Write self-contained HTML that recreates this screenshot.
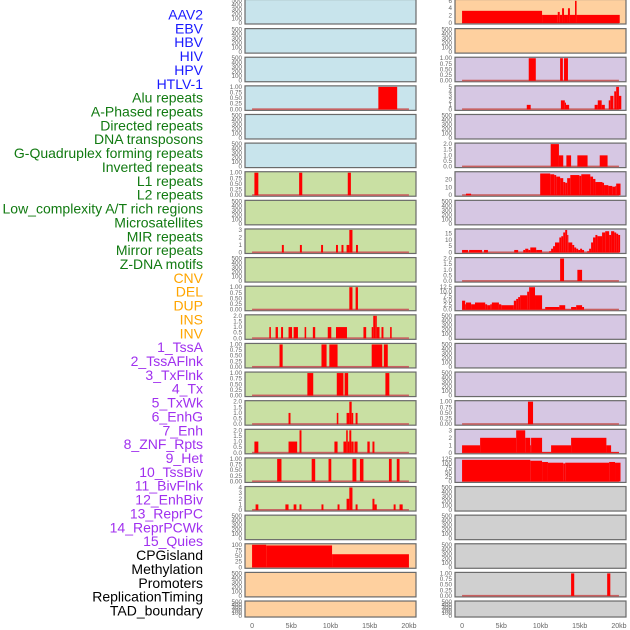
<!DOCTYPE html>
<html><head><meta charset="utf-8">
<style>
html,body{margin:0;padding:0;background:#fff;}
svg{display:block;font-family:"Liberation Sans",sans-serif;}
</style></head>
<body>
<svg id="chart" width="630" height="630" viewBox="0 0 630 630" xmlns="http://www.w3.org/2000/svg"></svg>
<script>
// ---------- data ----------
const trackLabels = ["AAV2","EBV","HBV","HIV","HPV","HTLV-1","Alu repeats","A-Phased repeats","Directed repeats","DNA transposons","G-Quadruplex forming repeats","Inverted repeats","L1 repeats","L2 repeats","Low_complexity A/T rich regions","Microsatellites","MIR repeats","Mirror repeats","Z-DNA motifs","CNV","DEL","DUP","INS","INV","1_TssA","2_TssAFlnk","3_TxFlnk","4_Tx","5_TxWk","6_EnhG","7_Enh","8_ZNF_Rpts","9_Het","10_TssBiv","11_BivFlnk","12_EnhBiv","13_ReprPC","14_ReprPCWk","15_Quies","CPGisland","Methylation","Promoters","ReplicationTiming","TAD_boundary"];
const labelGroups = ["v","v","v","v","v","v","r","r","r","r","r","r","r","r","r","r","r","r","r","s","s","s","s","s","c","c","c","c","c","c","c","c","c","c","c","c","c","c","c","o","o","o","o","o"];
const xTickValues = [0,5,10,15,20];
const xTickLabels = ["0","5kb","10kb","15kb","20kb"];

const leftBg = ["b","b","b","b","b","b","g","g","g","g","g","g","g","g","g","g","g","g","g","o","o","o"];
const rightBg = ["o","o","p","p","p","p","p","p","p","p","p","p","p","p","p","p","p","g2","g2","g2","g2","g2"];

const ticksEmpty = ["0","100","200","300","400","500"];
const ticksUnit = ["0.00","0.25","0.50","0.75","1.00"];
const ticksTwo = ["0.0","0.5","1.0","1.5","2.0"];
const ticksL8 = ["0","1","2","3"];
const ticksL17 = ["0","1","2","3","4"];
const ticksL19 = ["0","25","50","75","100"];
const ticksR0 = ["0","2","4","6"];
const ticksR3 = ["0","1","2","3","4","5"];
const ticksR6 = ["0","10","20"];
const ticksR8 = ["0","5","10","15"];
const ticksR10 = ["0.0","2.5","5.0","7.5","10.0","12.5"];
const ticksR15 = ["0","1","2","3"];
const ticksR16 = ["0","25","50","75","100","125"];

// segments: [startKb, endKb, value]
const segL3 = [[16.1,18.5,1]];
const segL6 = [[0.3,0.8,1],[6.0,6.4,1],[12.2,12.6,1]];
const segL8 = [[3.8,4.05,1],[6.1,6.35,1],[8.8,9.05,1],[10.7,10.95,1],[11.4,11.65,1],[12.05,12.4,1],[12.4,12.8,3],[13.25,13.5,1]];
const segL10 = [[12.4,12.8,1],[13.2,13.5,1]];
const segL11 = [[2.2,2.4,1],[3.0,3.3,1],[3.7,3.95,1],[4.65,5.1,1],[5.3,5.85,1],[6.7,6.9,1],[7.75,8.05,1],[9.65,10.1,1],[10.7,12.1,1],[14.2,14.55,1],[15.25,15.45,1],[15.45,15.7,2],[15.7,15.9,2],[15.9,16.25,1],[16.5,16.75,1],[17.6,17.8,1]];
const segL12 = [[3.5,3.9,1],[8.85,9.5,1],[9.85,10.9,1],[15.25,16.6,1],[16.8,17.3,1]];
const segL13 = [[7.05,7.8,1],[10.8,11.65,1],[11.8,12.25,1],[17.0,17.5,1]];
const segL14 = [[4.65,4.9,1],[10.8,11.0,1],[12.05,12.4,1],[12.4,12.7,2],[12.7,12.9,1],[13.2,13.45,1]];
const segL15 = [[0.3,0.8,1],[4.65,5.75,1],[6.05,6.3,2],[10.5,10.9,1],[11.65,12.0,1],[12.0,12.2,2],[12.2,12.4,1],[12.4,12.65,2],[12.65,12.95,1],[13.05,13.45,1],[14.7,15.0,1],[15.35,15.6,1]];
const segL16 = [[3.2,3.75,1],[7.6,8.05,1],[9.75,10.1,1],[12.8,13.3,1],[13.75,14.2,1],[17.45,17.8,1],[18.45,18.8,1]];
const segL17 = [[0.45,0.8,1],[4.25,4.65,1],[5.3,5.65,1],[6.05,6.3,1],[8.85,9.1,1],[10.9,11.15,1],[12.05,12.4,2],[12.4,12.8,4],[13.2,13.45,1],[15.35,15.6,2],[15.6,15.9,1],[18.05,18.3,1],[18.8,19.2,1]];
const segL19 = [[0,1.8,100],[1.8,10.2,97],[10.2,20.0,58]];

const segR0 = [[0,10.2,3.3],[10.2,12.2,2.2],[12.2,12.45,3],[12.45,12.75,2.2],[12.75,13.0,4],[13.0,13.5,2.2],[13.5,13.75,4],[13.75,14.4,2.2],[14.4,14.6,6],[14.6,20.1,2.2]];
const segR2 = [[8.5,9.4,1],[12.5,12.85,1],[13.0,13.5,1]];
const segR3 = [[8.25,8.75,1],[12.6,13.1,2],[13.1,13.25,1.5],[13.25,13.65,1],[16.9,17.3,1],[17.3,17.8,2],[17.8,18.2,1],[18.7,18.9,2],[18.9,19.3,3],[19.4,19.65,4],[19.65,20.0,5],[20.0,20.3,3]];
const segR5 = [[11.3,12.35,2],[12.35,12.9,1],[13.3,13.9,1],[14.7,16.0,1],[17.55,18.55,1]];
const segR6 = [[0.5,1.15,2],[9.96,11.24,28],[11.24,11.75,27],[11.75,12.0,26],[12.0,12.5,24],[12.5,12.9,22],[12.9,13.15,17],[13.15,13.4,16],[13.4,13.8,22],[13.8,14.95,26],[14.95,15.2,25],[15.2,16.35,27],[16.35,16.7,24],[16.7,17.0,21],[17.0,17.9,17],[17.9,18.1,16],[18.1,18.65,13],[18.65,19.15,12],[19.15,19.55,11],[19.55,19.65,12],[19.65,20.2,15]];
const segR8 = [[0,0.77,2],[0.9,2.55,2],[2.8,3.3,2],[6.65,7.15,2],[7.8,8.05,2],[8.05,8.45,3],[8.45,8.7,2],[8.7,9.45,4],[9.45,10.2,2],[11.1,11.35,1],[11.35,11.6,3],[11.6,11.85,5],[11.85,12.4,8],[12.4,12.65,12],[12.65,12.9,13],[12.9,13.15,16],[13.15,13.4,18],[13.4,13.55,14],[13.55,14.05,8],[14.05,14.3,6],[14.3,14.55,4],[14.55,14.8,3],[14.8,15.05,2],[15.05,15.3,3],[15.3,15.55,2],[15.95,16.2,1],[16.2,16.45,3],[16.45,16.7,8],[16.7,17.0,12],[17.0,17.25,14],[17.25,17.85,13],[17.85,18.25,16],[18.25,18.75,17],[18.75,19.0,14],[19.0,19.4,17],[19.4,19.65,16],[19.65,19.9,15],[19.9,20.15,14]];
const segR9 = [[12.5,13.0,2],[14.7,15.3,1]];
const segR10 = [[0,0.4,5],[0.4,0.5,3],[0.5,1.15,4],[1.15,1.65,3],[1.65,2.95,4],[2.95,3.2,3],[3.2,3.6,2.5],[3.6,3.8,3],[3.8,4.7,4],[4.7,5.0,3],[5.0,6.6,2.5],[6.6,6.9,5],[6.9,7.15,6],[7.15,7.4,7],[7.4,8.3,8],[8.3,8.55,10],[8.55,9.3,12.5],[9.3,10.2,8],[10.2,10.6,0.3],[10.6,12.4,1.5],[12.4,13.15,2.5],[13.15,13.9,0.2],[13.9,14.55,1.5],[14.55,15.3,2.5],[15.3,15.55,1.5]];
const segR14 = [[8.4,9.05,1]];
const segR15 = [[0,2.3,1],[2.3,6.9,2],[6.9,8.05,3],[8.05,8.7,2],[8.7,8.8,1],[8.8,10.2,2],[10.2,11.35,0.1],[11.35,13.9,1],[13.9,18.4,2],[18.4,19.0,1],[19.0,20.0,0.1]];
const segR16 = [[0,8.7,120],[8.7,10.2,115],[10.2,10.95,108],[10.95,12.9,104],[12.9,13.15,100],[13.15,18.75,104],[18.75,19.5,108],[19.5,20.2,104]];
const segR20 = [[13.9,14.3,1],[18.5,18.9,1]];

const leftPanels = [
 [ticksEmpty,null],[ticksEmpty,null],[ticksEmpty,null],[ticksUnit,segL3],[ticksEmpty,null],[ticksEmpty,null],
 [ticksUnit,segL6],[ticksEmpty,null],[ticksL8,segL8],[ticksEmpty,null],[ticksUnit,segL10],[ticksTwo,segL11],
 [ticksUnit,segL12],[ticksUnit,segL13],[ticksTwo,segL14],[ticksTwo,segL15],[ticksUnit,segL16],[ticksL17,segL17],
 [ticksEmpty,null],[ticksL19,segL19],[ticksEmpty,null],[ticksEmpty,null]];
const rightPanels = [
 [ticksR0,segR0],[ticksEmpty,null],[ticksUnit,segR2],[ticksR3,segR3],[ticksEmpty,null],[ticksTwo,segR5],
 [ticksR6,segR6],[ticksEmpty,null],[ticksR8,segR8],[ticksTwo,segR9],[ticksR10,segR10],[ticksEmpty,null],
 [ticksEmpty,null],[ticksEmpty,null],[ticksUnit,segR14],[ticksR15,segR15],[ticksR16,segR16],[ticksEmpty,null],
 [ticksEmpty,null],[ticksEmpty,null],[ticksUnit,segR20],[ticksEmpty,null]];
const yMaxOverride = {R0:6.1,R6:29,R8:18};

// ---------- rendering ----------
const NS="http://www.w3.org/2000/svg";
const svg=document.getElementById('chart');
function mk(tag,attrs,parent){const e=document.createElementNS(NS,tag);for(const k in attrs)e.setAttribute(k,attrs[k]);(parent||svg).appendChild(e);return e;}
const bgColor={b:"#c8e4ec",g:"#c9e0a3",o:"#fed09f",p:"#d6c7e3",g2:"#d0d0d0"};
const groupColor={v:"#1a1aff",r:"#117a11",s:"#ffa500",c:"#a030ef",o:"#000000"};
const cols=[{x0:245,x1:416},{x0:455,x1:626}];
const KB0=-0.9,KB1=20.9;
function xScale(col,kb){const c=cols[col];return c.x0+(kb-KB0)/(KB1-KB0)*(c.x1-c.x0);}
function rowTop(i){return i===0?-0.5:i*28.62;}
function rowH(i){return i===21?16:24.5;}

// labels
trackLabels.forEach((t,i)=>{
  const el=mk('text',{x:203,y:19.5+i*13.86,'text-anchor':'end','font-size':'14',fill:groupColor[labelGroups[i]]});
  el.textContent=t;
  
  
});

function drawPanel(col,i,ticks,seg,bg,key){
  const x0=cols[col].x0,x1=cols[col].x1,top=rowTop(i),h=rowH(i),bot=top+h;
  const g=mk('g',{});
  
  
  const rect=mk('rect',{x:x0,y:top,width:x1-x0,height:h,fill:bgColor[bg],stroke:'#6a6a6a','stroke-width':1.2},g);
  
  
  const tv=ticks.map(Number);
  const ymax=yMaxOverride[key]||tv[tv.length-1];
  const yS=v=>bot-1-(v/ymax)*(h-2);
  ticks.forEach((lab,k)=>{
    const t=mk('text',{x:x0-3,y:yS(tv[k])+2,'text-anchor':'end','font-size':'6.3',fill:'#666'},g);
    t.textContent=lab;
    
    
  });
  if(seg){
    const base=mk('rect',{x:xScale(col,0),y:bot-2,width:xScale(col,20)-xScale(col,0),height:1.6,fill:'#c86060'},g);
    
    
    seg.forEach(s=>{
      const y=yS(s[2]);
      const b=mk('rect',{x:xScale(col,s[0]),y:y,width:Math.max(0.8,xScale(col,s[1])-xScale(col,s[0])),height:Math.max(0,bot-1-y),fill:'#ff0000'},g);
      
      
    });
  }
}
leftPanels.forEach((p,i)=>drawPanel(0,i,p[0],p[1],leftBg[i],'L'+i));
rightPanels.forEach((p,i)=>drawPanel(1,i,p[0],p[1],rightBg[i],'R'+i));

[0,1].forEach(col=>{
  xTickValues.forEach((v,k)=>{
    const t=mk('text',{x:xScale(col,v),y:628,'text-anchor':'middle','font-size':'7',fill:'#666'});
    t.textContent=xTickLabels[k];
    
    
  });
});
</script>
</body></html>
